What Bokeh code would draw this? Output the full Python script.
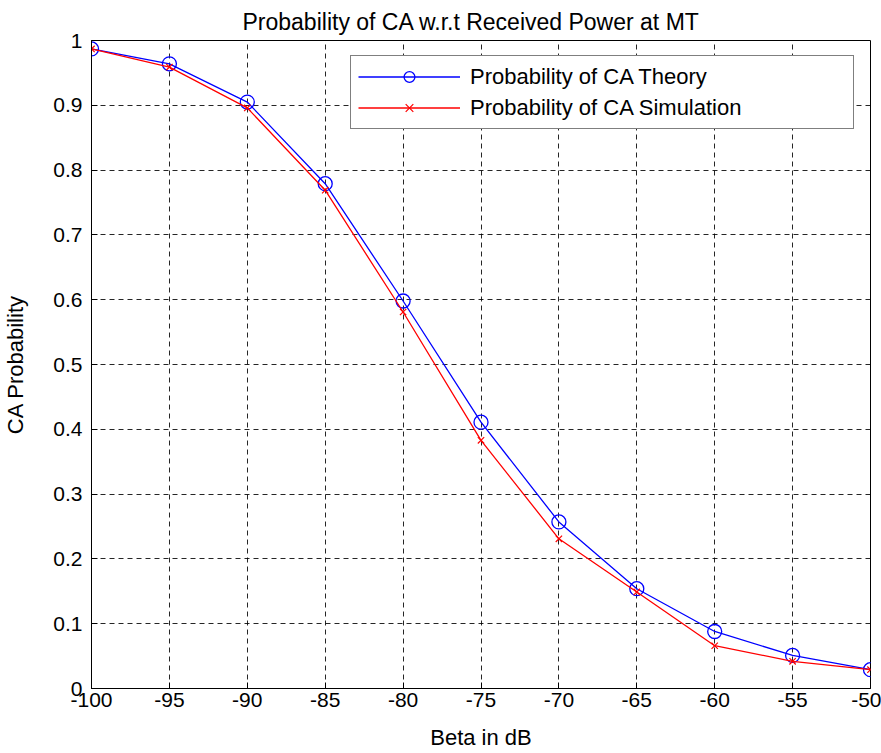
from bokeh.plotting import figure
from bokeh.models import Range1d, FixedTicker
from bokeh.embed import file_html
from bokeh.resources import INLINE

beta_db = [-100, -95, -90, -85, -80, -75, -70, -65, -60, -55, -50]
theory = [0.987, 0.964, 0.905, 0.779, 0.598, 0.411, 0.257, 0.154, 0.088, 0.051, 0.029]
simulation = [0.987, 0.959, 0.896, 0.769, 0.581, 0.383, 0.231, 0.149, 0.066, 0.042, 0.029]

x_ticks = [-100, -95, -90, -85, -80, -75, -70, -65, -60, -55, -50]
x_tick_labels = ["-100", "-95", "-90", "-85", "-80", "-75", "-70", "-65", "-60", "-55", "-50"]
y_ticks = [0, 0.1, 0.2, 0.3, 0.4, 0.5, 0.6, 0.7, 0.8, 0.9, 1]
y_tick_labels = ["0", "0.1", "0.2", "0.3", "0.4", "0.5", "0.6", "0.7", "0.8", "0.9", "1"]

title_text = "Probability of CA w.r.t Received Power at MT"
x_label = "Beta in dB"
y_label = "CA Probability"
label_theory = "Probability of CA Theory"
label_sim = "Probability of CA Simulation"

FONT = "Liberation Sans"

p = figure(width=881, height=753, x_range=Range1d(-100, -50), y_range=Range1d(0, 1),
           output_backend="svg", toolbar_location=None,
           min_border_left=90, min_border_right=11, min_border_top=40, min_border_bottom=65,
           background_fill_color="white", border_fill_color="white",
           outline_line_color="black", outline_line_width=1)

p.title.text = title_text
p.title.align = "left"
p.title.offset = 151
p.title.text_font = FONT
p.title.text_font_size = "23px"
p.title.text_font_style = "normal"
p.title.text_color = "black"
p.title.standoff = 11

xa = p.xaxis[0]
ya = p.yaxis[0]
xa.ticker = FixedTicker(ticks=x_ticks)
ya.ticker = FixedTicker(ticks=y_ticks)
xa.major_label_overrides = {t: l for t, l in zip(x_ticks, x_tick_labels)}
ya.major_label_overrides = {t: l for t, l in zip(y_ticks, y_tick_labels)}
xa.axis_label = x_label
ya.axis_label = y_label
for ax in (xa, ya):
    ax.major_tick_in = 6
    ax.major_tick_out = 0
    ax.minor_tick_line_color = None
    ax.axis_line_color = "black"
    ax.major_tick_line_color = "black"
    ax.major_label_text_font = FONT
    ax.major_label_text_font_size = "21px"
    ax.major_label_text_color = "black"
    ax.axis_label_text_font = FONT
    ax.axis_label_text_font_size = "22px"
    ax.axis_label_text_font_style = "normal"
    ax.axis_label_text_color = "black"
xa.major_label_standoff = 4
xa.axis_label_standoff = 15
ya.major_label_standoff = 9
ya.axis_label_standoff = 22

p.xgrid.ticker = FixedTicker(ticks=x_ticks)
p.ygrid.ticker = FixedTicker(ticks=y_ticks)
for g in (p.xgrid, p.ygrid):
    g.grid_line_color = "black"
    g.grid_line_alpha = 0.85
    g.grid_line_dash = "5 4"
    g.grid_line_width = 1

p.line(beta_db, theory, line_color="#0000ff", line_width=1.3, legend_label=label_theory)
p.scatter(beta_db, theory, marker="circle", size=14, fill_color=None, line_color="#0000ff",
          line_width=1.3, legend_label=label_theory)
p.line(beta_db, simulation, line_color="#ff0000", line_width=1.3, legend_label=label_sim)
p.scatter(beta_db, simulation, marker="x", size=9, line_color="#ff0000", line_width=1.2,
          legend_label=label_sim)

lg = p.legend[0]
lg.location = (259, 559)
lg.margin = 0
lg.padding = 7
lg.spacing = 4
lg.label_height = 27
lg.glyph_height = 27
lg.glyph_width = 102
lg.label_standoff = 10
lg.label_width = 376
lg.label_text_font = FONT
lg.label_text_font_size = "22px"
lg.label_text_color = "black"
lg.border_line_color = "black"
lg.border_line_width = 1
lg.background_fill_color = "white"
lg.background_fill_alpha = 1

open("out.html", "w").write(file_html(p, INLINE))
